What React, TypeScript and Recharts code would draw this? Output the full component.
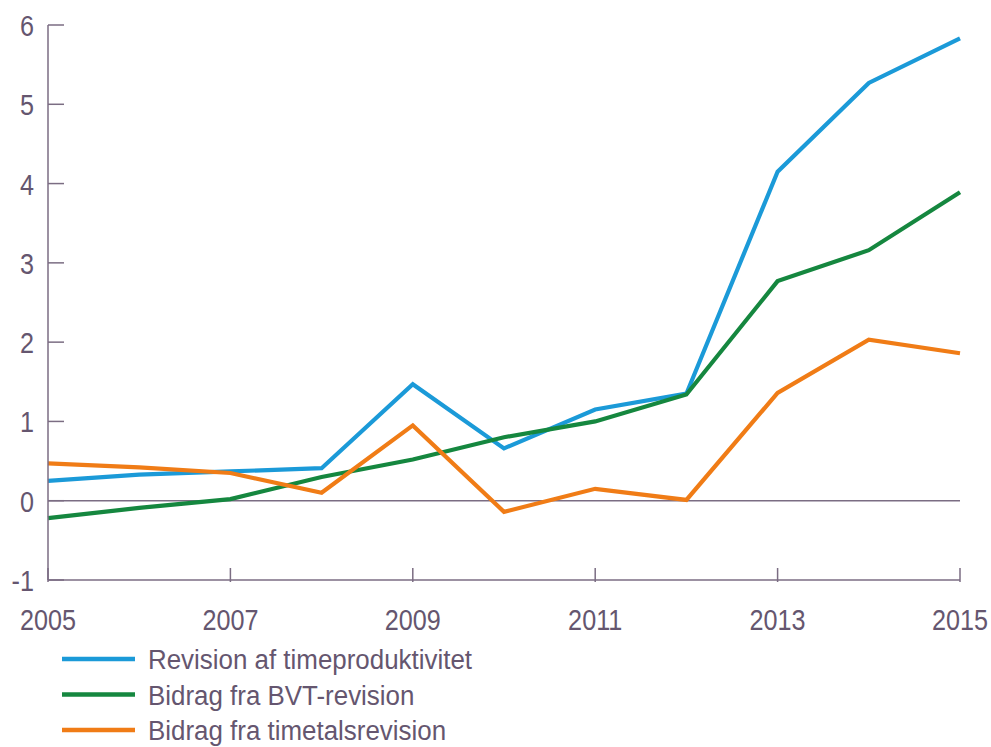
import { LineChart, Line, XAxis, YAxis, ReferenceLine } from "recharts";

const years = [2005, 2006, 2007, 2008, 2009, 2010, 2011, 2012, 2013, 2014, 2015];
const timeproduktivitet = [0.25, 0.33, 0.37, 0.41, 1.47, 0.66, 1.15, 1.35, 4.15, 5.27, 5.83];
const bvtRevision = [-0.22, -0.09, 0.02, 0.3, 0.52, 0.8, 1.0, 1.34, 2.77, 3.16, 3.89];
const timetalsRevision = [0.47, 0.42, 0.35, 0.1, 0.95, -0.14, 0.15, 0.01, 1.36, 2.03, 1.86];

const xTicks = [2005, 2007, 2009, 2011, 2013, 2015];
const yTicks = [-1, 0, 1, 2, 3, 4, 5, 6];

const series = [
  { key: "prod", name: "Revision af timeproduktivitet", color: "#1b9ad8" },
  { key: "bvt", name: "Bidrag fra BVT-revision", color: "#15873f" },
  { key: "timetal", name: "Bidrag fra timetalsrevision", color: "#f07c16" },
];

const data = years.map((year, i) => ({
  year,
  prod: timeproduktivitet[i],
  bvt: bvtRevision[i],
  timetal: timetalsRevision[i],
}));

const AXIS = "#7b6d83";
const TEXT = "#65566f";
const FONT = '"Liberation Sans", Arial, sans-serif';

// narrow text: Arial metrics squeezed horizontally
const Narrow = ({ x, y, anchor, size, scale, children }: any) => (
  <g transform={`translate(${x},${y}) scale(${scale},1)`}>
    <text x={0} y={0} textAnchor={anchor} fill={TEXT} fontSize={size} fontFamily={FONT}>
      {children}
    </text>
  </g>
);

const LeftTick = (props: any) => {
  const { x, y, payload } = props;
  return (
    <g>
      <line x1={x} y1={y} x2={x + 16} y2={y} stroke={AXIS} strokeWidth={1.5} />
      <Narrow x={x - 14} y={y + 11} anchor="end" size={30} scale={0.84}>
        {payload.value}
      </Narrow>
    </g>
  );
};

const RightTick = (props: any) => {
  const { x, y } = props;
  return <line x1={x} y1={y} x2={x - 16} y2={y} stroke={AXIS} strokeWidth={1.5} />;
};

const BottomTick = (props: any) => {
  const { x, y, payload } = props;
  return (
    <g>
      <line x1={x} y1={y} x2={x} y2={y - 14} stroke={AXIS} strokeWidth={1.5} />
      <Narrow x={x} y={y + 48} anchor="middle" size={30} scale={0.84}>
        {payload.value}
      </Narrow>
    </g>
  );
};

export default function App() {
  return (
    <div style={{ position: "absolute", left: 0, top: 0, width: 991, height: 747, background: "#fff" }}>
      <LineChart width={991} height={747} data={data} margin={{ top: 25, right: 31, left: 0, bottom: 107 }}>
        <XAxis
          dataKey="year"
          type="number"
          domain={[2005, 2015]}
          ticks={xTicks}
          tick={BottomTick}
          tickLine={false}
          tickSize={0}
          height={60}
          stroke={AXIS}
          strokeWidth={1.5}
          interval={0}
        />
        <YAxis
          yAxisId="left"
          domain={[-1, 6]}
          ticks={yTicks}
          tick={LeftTick}
          tickLine={false}
          tickSize={0}
          tickMargin={0}
          width={48}
          stroke={AXIS}
          strokeWidth={1.5}
          interval={0}
        />
        <YAxis
          yAxisId="right"
          orientation="right"
          domain={[-1, 6]}
          ticks={yTicks}
          tick={RightTick}
          tickLine={false}
          tickSize={0}
          tickMargin={0}
          width={0}
          stroke={AXIS}
          strokeWidth={1.5}
          interval={0}
        />
        <ReferenceLine yAxisId="left" y={0} stroke={AXIS} strokeWidth={1.5} />
        {series.map((s) => (
          <Line
            key={s.key}
            yAxisId="left"
            type="linear"
            dataKey={s.key}
            name={s.name}
            stroke={s.color}
            strokeWidth={4.2}
            dot={false}
            isAnimationActive={false}
          />
        ))}
      </LineChart>
      <svg width={991} height={747} style={{ position: "absolute", left: 0, top: 0, pointerEvents: "none" }}>
        {series.map((s, i) => {
          const cy = 659 + i * 35.5;
          return (
            <g key={s.key}>
              <line x1={62} y1={cy} x2={135} y2={cy} stroke={s.color} strokeWidth={4.5} />
              <Narrow x={148} y={cy + 10} anchor="start" size={27} scale={0.96}>
                {s.name}
              </Narrow>
            </g>
          );
        })}
      </svg>
    </div>
  );
}
